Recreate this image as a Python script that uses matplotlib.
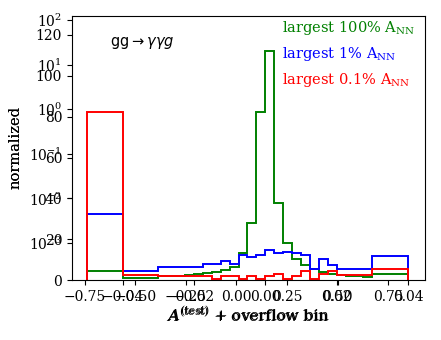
import numpy as np
import matplotlib.pyplot as plt
from matplotlib.ticker import NullLocator

plt.rcParams['font.family'] = 'DejaVu Serif'
plt.rcParams['mathtext.fontset'] = 'dejavuserif'

# --- binning: underflow bin, 28 regular bins, overflow bin ---
regular_lo, regular_hi = -0.04, 0.03
edges = np.concatenate(([-0.05], np.linspace(regular_lo, regular_hi, 29), [0.04]))

# normalized histogram contents (underflow, 28 bins, overflow)
green_vals = [4.6,
              1.3, 1.3, 1.3, 1.3, 2.0, 2.0, 2.0, 2.5, 3.0, 3.5, 4.0, 5.0, 6.5, 13.4,
              27.8, 82.4, 112.1, 38.0, 18.0, 10.6, 7.3, 5.7, 4.1, 3.0, 2.5, 2.0, 1.8, 1.5,
              3.0]
blue_vals = [32.5,
             4.6, 4.6, 4.6, 4.6, 6.2, 6.2, 6.2, 6.2, 6.2, 7.7, 7.7, 9.5, 7.8, 12.2,
             11.1, 12.2, 14.7, 13.1, 13.9, 13.1, 12.2, 5.7, 10.6, 7.3, 5.7, 5.7, 5.7, 5.7,
             11.8]
red_vals = [82.4,
            2.4, 2.4, 2.4, 2.4, 2.0, 2.0, 2.0, 2.0, 2.0, 2.0, 0.8, 2.0, 2.0, 0.8,
            2.0, 0.8, 2.0, 2.9, 0.8, 2.0, 4.4, 0.8, 2.9, 4.4, 2.4, 2.4, 2.4, 2.4,
            5.7]

series = [(r"largest 100% $\mathrm{A}_{\mathrm{NN}}$", green_vals, "green"),
          (r"largest 1% $\mathrm{A}_{\mathrm{NN}}$", blue_vals, "blue"),
          (r"largest 0.1% $\mathrm{A}_{\mathrm{NN}}$", red_vals, "red")]

lin_yticks = [0, 20, 40, 60, 80, 100, 120]
lin_xticks = [-0.75, -0.50, -0.25, 0.00, 0.25, 0.50, 0.75]
log_yticks = [1e-3, 1e-2, 1e-1, 1e0, 1e1, 1e2]
small_xticks = [-0.04, -0.02, 0.00, 0.02, 0.04]

fig = plt.figure(figsize=(4.41, 3.40), dpi=100)
rect = [0.163, 0.176, 0.801, 0.777]
xlabel = r"$A^{\rm (test)}$ + overflow bin"

# data axes (linear y)
ax = fig.add_axes(rect)
for label, vals, color in series:
    ax.stairs(vals, edges, color=color, lw=1.4, baseline=0)
ax.set_xlim(-0.0542, 0.0448)
ax.set_ylim(0, 129.3)
ax.set_xticks(small_xticks)
ax.set_yticks(lin_yticks)
ax.tick_params(labelsize=10)
ax.set_xlabel(xlabel, fontsize=11)
ax.set_ylabel("normalized", fontsize=10.5)
ax.xaxis.set_label_coords(0.561, 0.098, transform=fig.transFigure)
ax.yaxis.set_label_coords(0.050, 0.565, transform=fig.transFigure)

# second (overlapping) axes with log y
ax2 = fig.add_axes(rect, frameon=False)
ax2.set_xlim(-0.814, 0.933)
ax2.set_yscale('log')
ax2.set_ylim(10 ** -3.83, 10 ** 2.09)
ax2.set_xticks(lin_xticks)
ax2.set_yticks(log_yticks)
ax2.yaxis.set_minor_locator(NullLocator())
ax2.tick_params(labelsize=10)
ax2.set_xlabel(xlabel, fontsize=11)
ax2.set_ylabel("normalized", fontsize=10.5)
ax2.xaxis.set_label_coords(0.563, 0.100, transform=fig.transFigure)
ax2.yaxis.set_label_coords(0.052, 0.565, transform=fig.transFigure)

ax.text(0.108, 0.898, r"gg$\rightarrow\gamma\gamma g$", transform=ax.transAxes,
        fontsize=10.5, family='DejaVu Sans', math_fontfamily='dejavusans', va='center')

for i, (label, vals, color) in enumerate(series):
    ax.text(0.595, 0.955 - i * 0.098, label, transform=ax.transAxes,
            fontsize=10.5, color=color, va='center')

fig.savefig("out.png", dpi=100)
